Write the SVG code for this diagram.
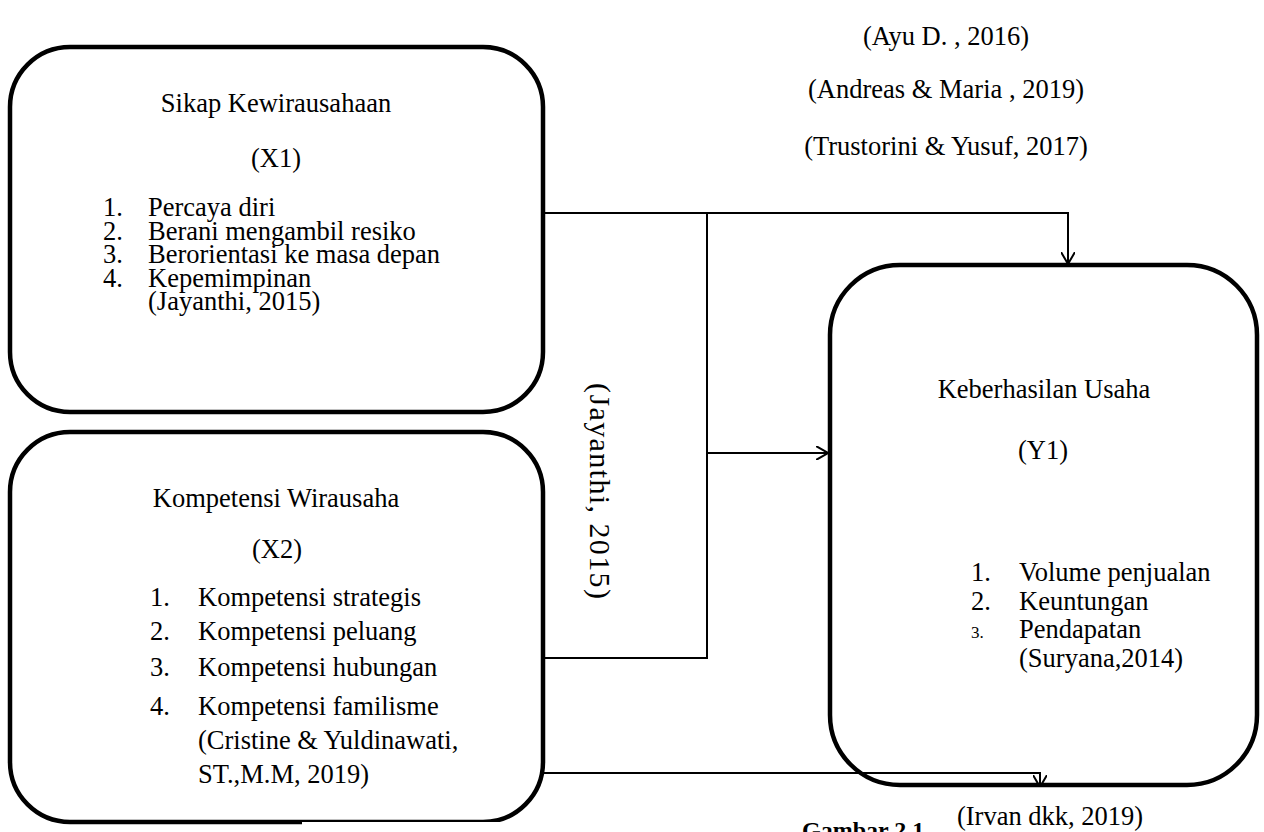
<svg xmlns="http://www.w3.org/2000/svg" width="1264" height="832" viewBox="0 0 1264 832">
<style>
text{font-family:"Liberation Serif","Times New Roman",serif;font-size:26.5px;fill:#000}
.box{fill:none;stroke:#000;stroke-width:4.5}
.con{fill:none;stroke:#000;stroke-width:2}
.mid{text-anchor:middle}
.cap{font-weight:bold;font-size:24px}
.sm{font-size:17px}
.rot{font-size:30px}
</style>
<defs>
<marker id="arr" viewBox="0 0 12 14" refX="12" refY="7" markerWidth="12" markerHeight="14" markerUnits="userSpaceOnUse" orient="auto">
<path d="M0,0 L12,7 L0,14" fill="none" stroke="#000" stroke-width="2"/>
</marker>
</defs>
<rect width="1264" height="832" fill="#fff"/>
<g id="connectors">
<polyline class="con" points="543,213 1068,213 1068,264" marker-end="url(#arr)"/>
<polyline class="con" points="707,213 707,658 543,658"/>
<line class="con" x1="707" y1="453" x2="828" y2="453" marker-end="url(#arr)"/>
<polyline class="con" points="543,773 1040,773 1040,787" marker-end="url(#arr)"/>
</g>
<g id="node-x1">
<rect class="box" x="10" y="47" width="533" height="365" rx="60"/>
<text class="mid" x="276" y="112">Sikap Kewirausahaan</text>
<text class="mid" x="276" y="167">(X1)</text>
<text x="103" y="216">1.</text><text x="148" y="216">Percaya diri</text>
<text x="103" y="240">2.</text><text x="148" y="240">Berani mengambil resiko</text>
<text x="103" y="263">3.</text><text x="148" y="263">Berorientasi ke masa depan</text>
<text x="103" y="287">4.</text><text x="148" y="287">Kepemimpinan</text>
<text x="148" y="310">(Jayanthi, 2015)</text>
</g>
<g id="node-x2">
<rect class="box" x="10" y="432" width="533" height="390" rx="60"/>
<rect x="302" y="822" width="200" height="3" fill="#fff"/>
<text class="mid" x="276" y="507">Kompetensi Wirausaha</text>
<text class="mid" x="277" y="558">(X2)</text>
<text x="150" y="606">1.</text><text x="198" y="606">Kompetensi strategis</text>
<text x="150" y="640">2.</text><text x="198" y="640">Kompetensi peluang</text>
<text x="150" y="676">3.</text><text x="198" y="676">Kompetensi hubungan</text>
<text x="150" y="715">4.</text><text x="198" y="715">Kompetensi familisme</text>
<text x="198" y="749"> (Cristine &amp; Yuldinawati,</text>
<text x="198" y="783">ST.,M.M, 2019)</text>
</g>
<g id="node-y1">
<rect class="box" x="830" y="265" width="427" height="520" rx="70"/>
<text class="mid" x="1044" y="398">Keberhasilan Usaha</text>
<text class="mid" x="1043" y="459">(Y1)</text>
<text x="971" y="581">1.</text><text x="1019" y="581">Volume penjualan</text>
<text x="971" y="610">2.</text><text x="1019" y="610">Keuntungan</text>
<text x="971" y="638" class="sm">3.</text><text x="1019" y="638">Pendapatan</text>
<text x="1019" y="667">(Suryana,2014)</text>
</g>
<g id="labels">
<text class="mid" x="946" y="45">(Ayu D. , 2016)</text>
<text class="mid" x="946" y="98">(Andreas &amp; Maria , 2019)</text>
<text class="mid" x="946" y="155">(Trustorini &amp; Yusuf, 2017)</text>
<text class="mid" x="1050" y="825">(Irvan dkk, 2019)</text>
<text class="mid rot" transform="translate(590,491) rotate(90)" textLength="216" lengthAdjust="spacing">(Jayanthi, 2015)</text>
<text class="cap" x="802" y="838">Gambar 2.1</text>
</g>
</svg>
